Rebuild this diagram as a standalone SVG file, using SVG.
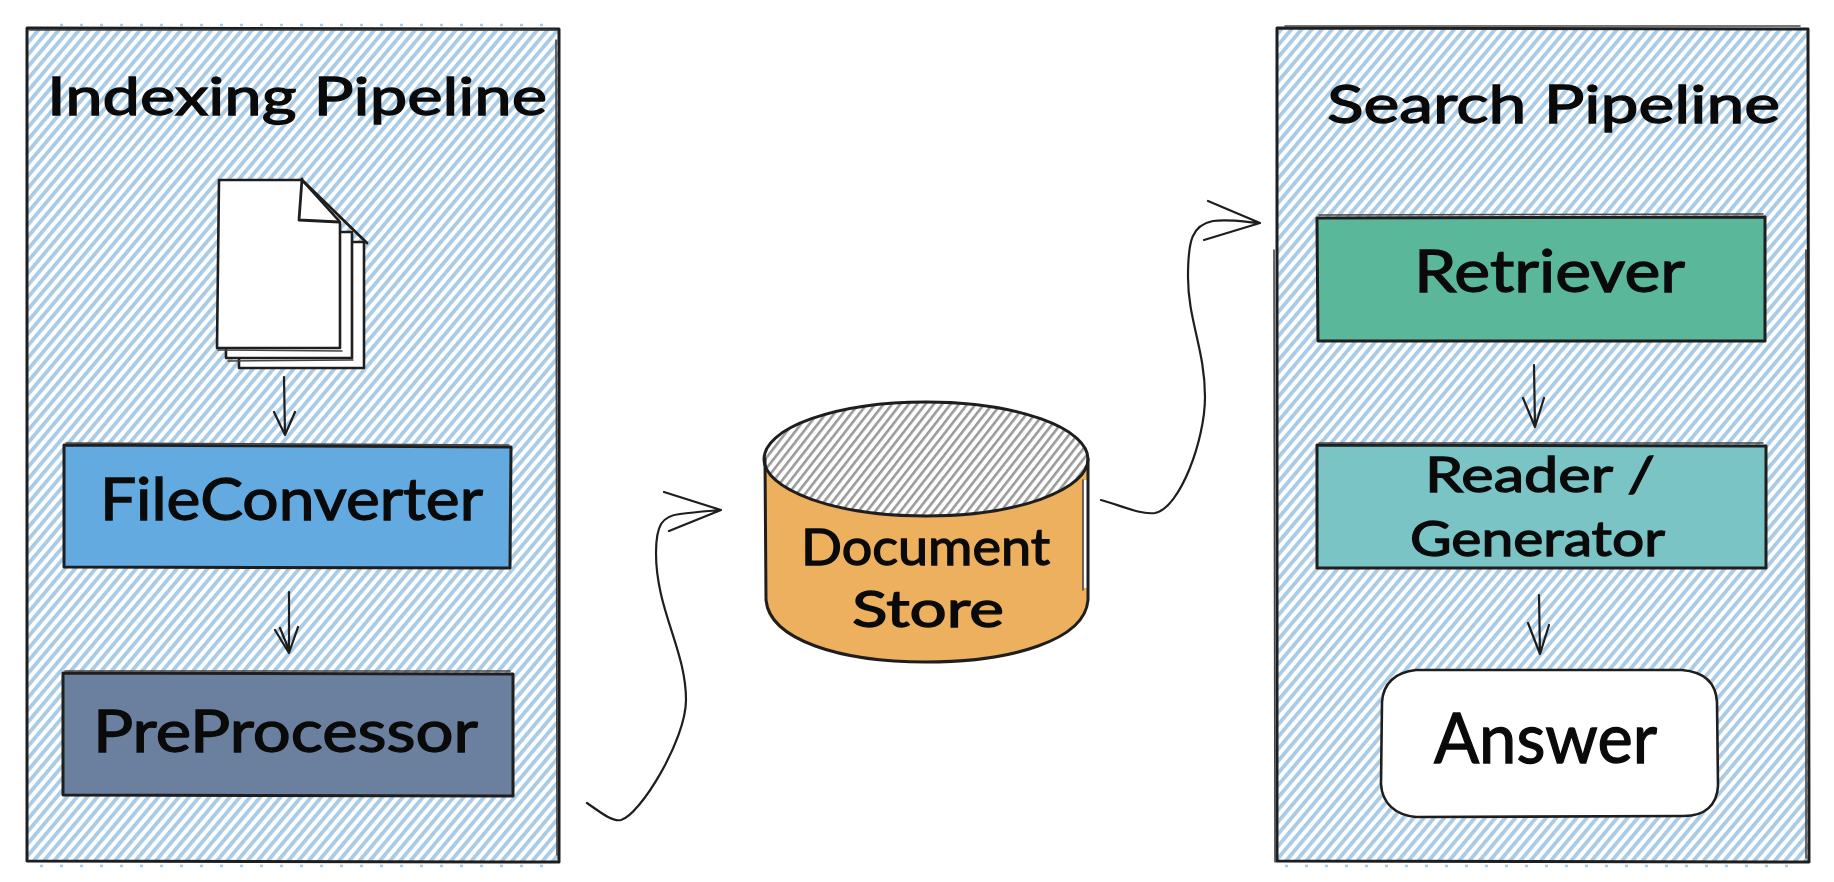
<svg xmlns="http://www.w3.org/2000/svg" width="1834" height="882" viewBox="0 0 1834 882">
<style>
.lbl{font-family:Lato,"Noto Sans",sans-serif;fill:#0a0a0a;stroke:#0a0a0a;stroke-width:1.3;text-anchor:start}
.edge{fill:none;stroke:#1e1e1e;stroke-width:3;stroke-linejoin:round;stroke-linecap:round}
.rough{fill:none;stroke:#444;stroke-width:1.6;stroke-linecap:round}
.thin{fill:none;stroke:#1e1e1e;stroke-width:2.8;stroke-linecap:round;stroke-linejoin:round}
.conn{fill:none;stroke:#1e1e1e;stroke-width:2.2;stroke-linecap:round;stroke-linejoin:round}
.page{fill:#fff;stroke:#1e1e1e;stroke-width:2.6;stroke-linejoin:round}
.spill{fill:none;stroke:#a9cbe6;stroke-width:2.5;stroke-dasharray:3 17}
</style>
<defs>
<pattern id="hatchBlue" width="7.8" height="7.8" patternUnits="userSpaceOnUse" patternTransform="rotate(40)">
<rect width="7.8" height="7.8" fill="#fff"/>
<rect width="3.8" height="7.8" fill="#a9cbe6"/>
</pattern>
<pattern id="hatchGrey" width="6.6" height="6.6" patternUnits="userSpaceOnUse" patternTransform="rotate(38)">
<rect width="6.6" height="6.6" fill="#fff"/>
<rect width="2.6" height="6.6" fill="#9a9a9a"/>
</pattern>
</defs>
<rect width="1834" height="882" fill="#fff"/>

<g id="indexing-pipeline">
<rect x="27" y="28" width="532" height="834" fill="url(#hatchBlue)"/>
<path class="spill" d="M40 866 L556 866 M60 25 L550 25"/>
<path class="edge" d="M27 28 L559 29 L559 862 L27 861 Z"/>
<path class="rough" d="M556 40 L557 855 M30 30 L556 30"/>
<text class="lbl" x="47" y="115" font-size="52" textLength="500" lengthAdjust="spacingAndGlyphs">Indexing Pipeline</text>
</g>

<g id="search-pipeline">
<rect x="1277" y="28" width="532" height="834" fill="url(#hatchBlue)"/>
<path class="spill" d="M1285 866 L1805 866"/>
<path class="edge" d="M1277 28 L1808 29 L1809 862 L1277 861 Z"/>
<path class="rough" d="M1274 250 L1275 862 M1806 250 L1806 858 M1285 26 L1800 26"/>
<text class="lbl" x="1327" y="123" font-size="52" textLength="453" lengthAdjust="spacingAndGlyphs">Search Pipeline</text>
</g>

<g id="documents">
<path class="page" d="M239 242 L364 242 L364 368 L239 368 Z"/>
<path class="page" d="M226 232 L352 232 L352 358 L226 358 Z"/>
<path class="page" d="M219 180 L302 180 L340 222 L340 348 L217 348 Z"/>
<path class="thin" d="M302 179 L299 220 L339 222 M302 180 L367 243"/>
<path class="rough" d="M218 350 L342 351 M228 361 L353 360"/>
</g>

<g id="file-converter">
<rect x="64" y="446" width="447" height="122" fill="#62aae0"/>
<path class="edge" d="M64 445 L511 447 L510 568 L64 567 Z"/>
<path class="rough" d="M66 443 L509 445"/>
<text class="lbl" x="100" y="520" font-size="58" textLength="383" lengthAdjust="spacingAndGlyphs">FileConverter</text>
</g>

<g id="pre-processor">
<rect x="63" y="673" width="450" height="122" fill="#6b809f"/>
<path class="edge" d="M63 673 L513 674 L513 796 L63 795 Z"/>
<path class="rough" d="M65 671 L510 671"/>
<text class="lbl" x="93" y="752" font-size="58" textLength="385" lengthAdjust="spacingAndGlyphs">PreProcessor</text>
</g>

<g id="retriever">
<rect x="1317" y="218" width="448" height="123" fill="#5ab79a"/>
<path class="edge" d="M1317 218 L1765 217 L1765 341 L1318 341 Z"/>
<path class="rough" d="M1319 215 L1763 214"/>
<text class="lbl" x="1414" y="292" font-size="58" textLength="271" lengthAdjust="spacingAndGlyphs">Retriever</text>
</g>

<g id="reader-generator">
<rect x="1317" y="445" width="449" height="123" fill="#7bc4c6"/>
<path class="edge" d="M1317 445 L1766 446 L1766 568 L1317 568 Z"/>
<path class="rough" d="M1319 443 L1763 443"/>
<text class="lbl" font-size="48"><tspan x="1425" y="492" textLength="230" lengthAdjust="spacingAndGlyphs">Reader /</tspan><tspan x="1410" y="556" textLength="255" lengthAdjust="spacingAndGlyphs">Generator</tspan></text>
</g>

<g id="answer">
<rect x="1381" y="670" width="337" height="147" rx="34" ry="28" fill="#fff"/>
<path class="edge" d="M1416 670 L1682 670 C1705 672 1716 684 1717 702 L1718 786 C1717 805 1705 816 1684 816 L1416 817 C1395 815 1382 803 1381 784 L1382 702 C1383 684 1395 672 1416 670 Z" style="stroke-width:2.6"/>
<text class="lbl" x="1434" y="763" font-size="70" textLength="223" lengthAdjust="spacingAndGlyphs">Answer</text>
</g>

<g id="document-store">
<path d="M765 459 L765 600 C765 640 840 662 926 662 C1012 662 1088 640 1088 600 L1088 459 Z" fill="#ecb05f"/>
<rect x="1083" y="480" width="5" height="108" fill="#fff"/>
<ellipse cx="926" cy="459" rx="162" ry="57" fill="url(#hatchGrey)"/>
<ellipse class="edge" cx="926" cy="459" rx="162" ry="57"/>
<path class="edge" d="M765 459 L766 600 C770 640 840 662 926 662 C1012 662 1085 640 1088 600 L1088 459"/>
<path class="rough" d="M1083 480 L1083 590"/>
<text class="lbl" font-size="50"><tspan x="801" y="565" textLength="249" lengthAdjust="spacingAndGlyphs">Document</tspan><tspan x="852" y="627" textLength="152" lengthAdjust="spacingAndGlyphs">Store</tspan></text>
</g>

<g id="connectors">
<path class="conn" d="M284 377 L285 435 M274 412 L285 435 L295 412"/>
<path class="conn" d="M289 592 L289 653 M275 630 L289 653 L298 627 M280 628 L289 650"/>
<path class="conn" d="M1534 365 L1535 427 M1523 398 L1535 427 L1544 398"/>
<path class="conn" d="M1539 595 L1540 654 M1528 623 L1540 654 L1549 625"/>
<path class="conn" d="M587 803 C600 812 612 822 621 820 C640 815 686 740 686 700 C686 650 656 610 656 553 C656 525 662 516 680 514 C695 512 710 511 721 510 M664 492 L721 510 L669 531"/>
<path class="conn" d="M1101 500 C1120 505 1140 515 1155 513 C1180 508 1205 440 1205 397 C1205 350 1188 320 1188 277 C1188 240 1192 225 1213 221 C1230 219 1245 222 1260 223 M1208 201 L1260 223 L1204 240"/>
</g>
</svg>
